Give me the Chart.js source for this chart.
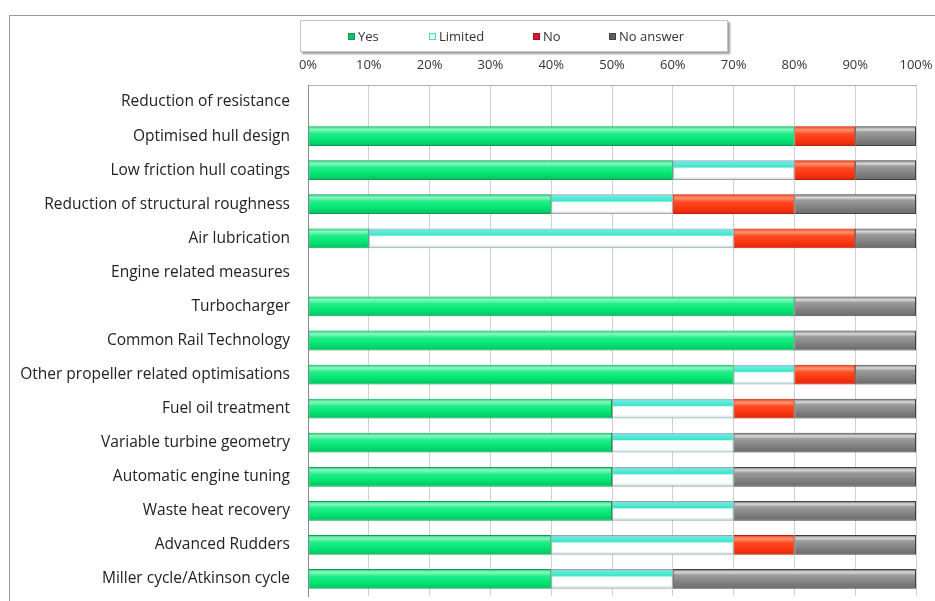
<!DOCTYPE html>
<html>
<head>
<meta charset="utf-8">
<script src="https://cdn.jsdelivr.net/npm/chart.js@4.4.1/dist/chart.umd.min.js"></script>
<style>
  html, body { margin: 0; padding: 0; background: #fff; }
  #wrap { position: relative; width: 935px; height: 601px; overflow: hidden; }
  #frame { position: absolute; left: 9px; top: 15px; width: 1000px; height: 700px;
    border-left: 1px solid #9a9a9a; border-top: 1px solid #9a9a9a; }
  #legend { position: absolute; left: 300px; top: 20px; width: 426px; height: 30px;
    border: 1px solid #c4c4c4; box-shadow: 2px 2px 2px #9a9a9a; background: #fff;
    font: 13px "Open Sans", sans-serif; color: #333; }
  #legend .item { position: absolute; top: 6px; white-space: nowrap; }
  #legend .sw { display: inline-block; width: 7px; height: 7px; margin-right: 3px;
    vertical-align: 1px; box-sizing: border-box; }
  canvas { position: absolute; left: 0; top: 0; }
</style>
</head>
<body>
<div id="wrap">
  <div id="frame"></div>
  <canvas id="chart" width="935" height="601"></canvas>
  <div id="legend"></div>
</div>
<script>
(function () {
  "use strict";

  // ---- Survey data (percent of answers) ----
  const categories = [
    "Reduction of resistance",
    "Optimised hull design",
    "Low friction hull coatings",
    "Reduction of structural roughness",
    "Air lubrication",
    "Engine related measures",
    "Turbocharger",
    "Common Rail Technology",
    "Other propeller related optimisations",
    "Fuel oil treatment",
    "Variable turbine geometry",
    "Automatic engine tuning",
    "Waste heat recovery",
    "Advanced Rudders",
    "Miller cycle/Atkinson cycle"
  ];
  const yes      = [null, 80, 60, 40, 10, null, 80, 80, 70, 50, 50, 50, 50, 40, 40];
  const limited  = [null,  0, 20, 20, 60, null,  0,  0, 10, 20, 20, 20, 20, 30, 20];
  const no       = [null, 10, 10, 20, 20, null,  0,  0, 10, 10,  0,  0,  0, 10,  0];
  const noAnswer = [null, 10, 10, 20, 10, null, 20, 20, 10, 20, 30, 30, 30, 20, 40];
  const seriesLabels = ["Yes", "Limited", "No", "No answer"];
  const xTicks = [0, 10, 20, 30, 40, 50, 60, 70, 80, 90, 100];

  // glossy look per series: border + vertical gradient stops
  const styles = [
    { border: "#0f9a55", swatch: "#12c06a", swatchBorder: "#0f9a55",
      stops: [[0, "#3ad88c"], [0.12, "#8af7c2"], [0.35, "#22ee88"], [0.7, "#04e473"], [1, "#05c463"]] },
    { border: "#9aa4a8", swatch: "#eafaf8", swatchBorder: "#4ad8c8",
      stops: [[0, "#8fd3f0"], [0.1, "#5eecd8"], [0.32, "#3ee6c8"], [0.4, "#ffffff"], [0.85, "#ffffff"], [1, "#dcdcdc"]] },
    { border: "#b81a0c", swatch: "#d81830", swatchBorder: "#a01020",
      stops: [[0, "#f05030"], [0.15, "#ff9470"], [0.38, "#ff4a22"], [0.75, "#f8340f"], [1, "#e02a0c"]] },
    { border: "#3e3e3e", swatch: "#5e5e5e", swatchBorder: "#444",
      stops: [[0, "#8a8a8a"], [0.12, "#dadada"], [0.28, "#9c9c9c"], [0.7, "#808080"], [1, "#6c6c6c"]] }
  ];
  const values = [yes, limited, no, noAnswer];

  const glossPlugin = {
    id: "gloss",
    afterDatasetsDraw(chart) {
      const c = chart.ctx;
      chart.data.datasets.forEach((ds, i) => {
        const meta = chart.getDatasetMeta(i);
        if (meta.hidden) return;
        meta.data.forEach((el) => {
          const p = el.getProps(["x", "y", "base", "height"], true);
          const left = Math.min(p.x, p.base), right = Math.max(p.x, p.base);
          if (right - left < 3) return;
          const top = p.y - p.height / 2;
          const g = c.createLinearGradient(0, top + 1, 0, top + p.height - 1);
          styles[i].stops.forEach(([o, col]) => g.addColorStop(o, col));
          c.save();
          c.fillStyle = g;
          c.fillRect(left + 1, top + 1, right - left - 2, p.height - 2);
          c.restore();
        });
      });
    }
  };

  const datasets = seriesLabels.map((label, i) => ({
    label,
    data: values[i],
    backgroundColor: styles[i].stops[2][1],
    borderColor: styles[i].border,
    borderWidth: 1,
    borderSkipped: false,
    categoryPercentage: 0.58,
    barPercentage: 1
  }));

  const font = "'Open Sans', sans-serif";

  new Chart(document.getElementById("chart"), {
    type: "bar",
    data: { labels: categories, datasets },
    plugins: [glossPlugin],
    options: {
      indexAxis: "y",
      responsive: false,
      animation: false,
      layout: { padding: { left: 0, right: 19, top: 0, bottom: 5 } },
      plugins: { legend: { display: false }, tooltip: { enabled: false } },
      scales: {
        x: {
          position: "top",
          stacked: true,
          min: 0,
          max: 100,
          afterBuildTicks: (s) => { s.ticks = xTicks.map((v) => ({ value: v })); },
          afterFit: (s) => { s.height = 85; s.paddingLeft = 0; s.paddingRight = 0; },
          ticks: {
            callback: (v) => v + "%",
            color: "#333",
            padding: 12,
            maxRotation: 0,
            font: { family: font, size: 13 }
          },
          grid: { color: "#cfcfcf", drawTicks: false },
          border: { color: "#b0b0b0" }
        },
        y: {
          stacked: true,
          afterFit: (s) => { s.width = 308; s.paddingTop = 0; s.paddingBottom = 0; },
          ticks: { color: "#222", padding: 18, font: { family: font, size: 15.5 } },
          grid: { display: false, drawTicks: false },
          border: { color: "#8a8a8a" }
        }
      }
    }
  });

  // legend box above the axis
  const legendLeft = [47, 128, 232, 308];
  const legend = document.getElementById("legend");
  seriesLabels.forEach((label, i) => {
    const item = document.createElement("span");
    item.className = "item";
    item.style.left = legendLeft[i] + "px";
    item.innerHTML = `<span class="sw" style="background:${styles[i].swatch};border:1px solid ${styles[i].swatchBorder}"></span>${label}`;
    legend.appendChild(item);
  });
})();
</script>
</body>
</html>
